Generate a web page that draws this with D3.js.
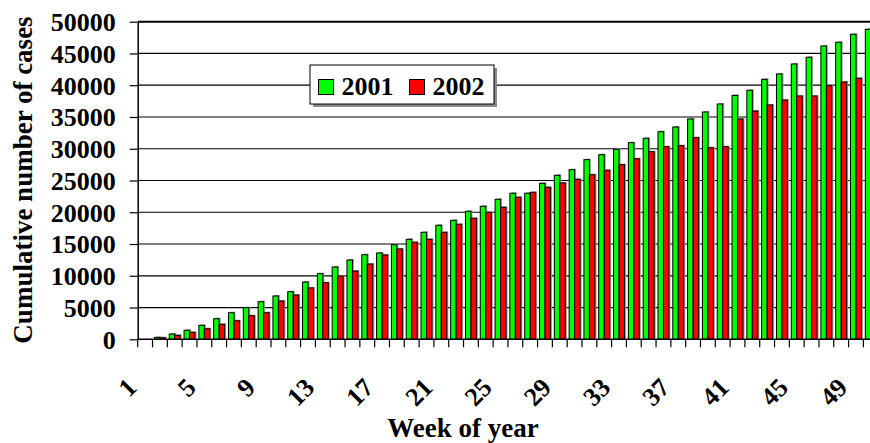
<!DOCTYPE html>
<html><head><meta charset="utf-8">
<script src="https://cdn.jsdelivr.net/npm/d3@7/dist/d3.min.js"></script>
<style>
body{margin:0;background:#fff}
svg{display:block}
</style>
</head><body>
<svg id="c" width="870" height="443"></svg>
<script>
// ---- data ----
const weeks = [1,2,3,4,5,6,7,8,9,10,11,12,13,14,15,16,17,18,19,20,21,22,23,24,25,26,
  27,28,29,30,31,32,33,34,35,36,37,38,39,40,41,42,43,44,45,46,47,48,49,50,51,52];
const cases2001 = [0,300,830,1420,2200,3240,4190,4980,5920,6820,7490,9020,10330,11380,12480,
  13320,13590,14890,15740,16840,17950,18730,20150,20940,22040,22990,22990,24560,25820,26700,
  28280,29060,29910,30950,31640,32680,33420,34680,35780,37040,38400,39200,40930,41770,43340,
  44400,46170,46760,48020,48800];
const cases2002 = [0,250,630,1100,1670,2360,2930,3720,4190,6030,6970,8080,8910,9970,10750,
  11850,13270,14220,15270,15740,16840,18100,19050,19990,20780,22360,23140,23930,24610,25190,
  25910,26610,27490,28430,29530,30320,30480,31740,30160,30320,34680,35940,36890,37670,38300,
  38300,39920,40510,41090];
const yTicks = [0,5000,10000,15000,20000,25000,30000,35000,40000,45000,50000];
const xTickLabels = [1,5,9,13,17,21,25,29,33,37,41,45,49];
const seriesNames = ["2001","2002"];
const seriesColors = ["#00ff00","#ff0000"];

// ---- layout ----
const FONT = "'Liberation Serif', 'Times New Roman', Times, serif";
const W = 870, H = 443;
const plotLeft = 137.7, plotTop = 21.7, plotBottom = 339.3, band = 14.81;
const svg = d3.select("#c");

const x = d3.scaleBand().domain(weeks).range([plotLeft, plotLeft + band * weeks.length]).padding(0);
const y = d3.scaleLinear().domain([0, 50000]).range([plotBottom, plotTop]);

function styleText(sel, size) {
  return sel.attr("font-family", FONT).attr("font-weight", "bold")
    .attr("font-size", size).attr("fill", "#000");
}

// gridlines
svg.append("g").selectAll("line").data(yTicks.filter(d => d > 0)).join("line")
  .attr("x1", plotLeft).attr("x2", W).attr("y1", d => y(d)).attr("y2", d => y(d))
  .attr("stroke", "#000").attr("stroke-width", d => d === 50000 ? 2 : 1.2);

// bars
const bw = x.bandwidth() * 0.37;
const off = (x.bandwidth() - 2 * bw) / 2;
const series = [cases2001, cases2002];
series.forEach((vals, si) => {
  const data = vals.map((v, i) => ({w: weeks[i], v}));
  const g = svg.append("g");
  g.selectAll("rect.sh").data(data.filter(d => d.v > 0)).join("rect")
    .attr("class", "sh")
    .attr("x", d => x(d.w) + off + si * bw + 1.5)
    .attr("y", d => y(d.v) - 1)
    .attr("width", bw).attr("height", d => plotBottom - y(d.v))
    .attr("fill", "#9a9a9a");
  g.selectAll("rect.b").data(data.filter(d => d.v > 0)).join("rect")
    .attr("class", "b")
    .attr("x", d => x(d.w) + off + si * bw)
    .attr("y", d => y(d.v))
    .attr("width", bw).attr("height", d => plotBottom - y(d.v))
    .attr("fill", seriesColors[si]).attr("stroke", "#000").attr("stroke-width", 1);
});

// y axis
const yAxis = svg.append("g").attr("transform", `translate(${plotLeft},0)`)
  .call(d3.axisLeft(y).tickValues(yTicks).tickFormat(d3.format("d"))
    .tickSize(8).tickSizeOuter(0).tickPadding(14));
yAxis.attr("font-family", FONT).attr("font-size", 26);
yAxis.select(".domain").attr("stroke", "#000").attr("stroke-width", 1.5);
yAxis.selectAll(".tick line").attr("stroke", "#000").attr("stroke-width", 1.2);
styleText(yAxis.selectAll(".tick text"), 26).attr("dy", "0.34em");

// x axis line + boundary ticks
svg.append("line").attr("x1", plotLeft).attr("x2", W).attr("y1", plotBottom).attr("y2", plotBottom)
  .attr("stroke", "#000").attr("stroke-width", 1.5);
svg.append("g").selectAll("line").data(weeks).join("line")
  .attr("x1", d => x(d)).attr("x2", d => x(d))
  .attr("y1", plotBottom).attr("y2", plotBottom + 8)
  .attr("stroke", "#000").attr("stroke-width", 1.2);

// x tick labels
styleText(svg.append("g").selectAll("text").data(xTickLabels).join("text"), 26)
  .attr("transform", d => `translate(${x(d) + x.bandwidth() / 2 - 7},389) rotate(-45)`)
  .attr("text-anchor", "end")
  .text(d => d);

// axis titles
styleText(svg.append("text"), 27).attr("transform", "translate(32,180) rotate(-90)")
  .attr("text-anchor", "middle").text("Cumulative number of cases");
styleText(svg.append("text"), 27).attr("x", 463).attr("y", 437)
  .attr("text-anchor", "middle").text("Week of year");

// legend
const lg = svg.append("g");
lg.append("rect").attr("x", 313).attr("y", 68).attr("width", 184).attr("height", 39).attr("fill", "#8a8a8a");
lg.append("rect").attr("x", 310).attr("y", 65).attr("width", 184).attr("height", 39)
  .attr("fill", "#fff").attr("stroke", "#000").attr("stroke-width", 1);
const lx = [318.5, 409.5];
seriesNames.forEach((n, i) => {
  lg.append("rect").attr("x", lx[i]).attr("y", 79.5).attr("width", 15).attr("height", 15)
    .attr("fill", seriesColors[i]).attr("stroke", "#000").attr("stroke-width", 1);
  styleText(lg.append("text"), 26).attr("x", lx[i] + 23).attr("y", 95).text(n);
});
</script>
</body></html>
